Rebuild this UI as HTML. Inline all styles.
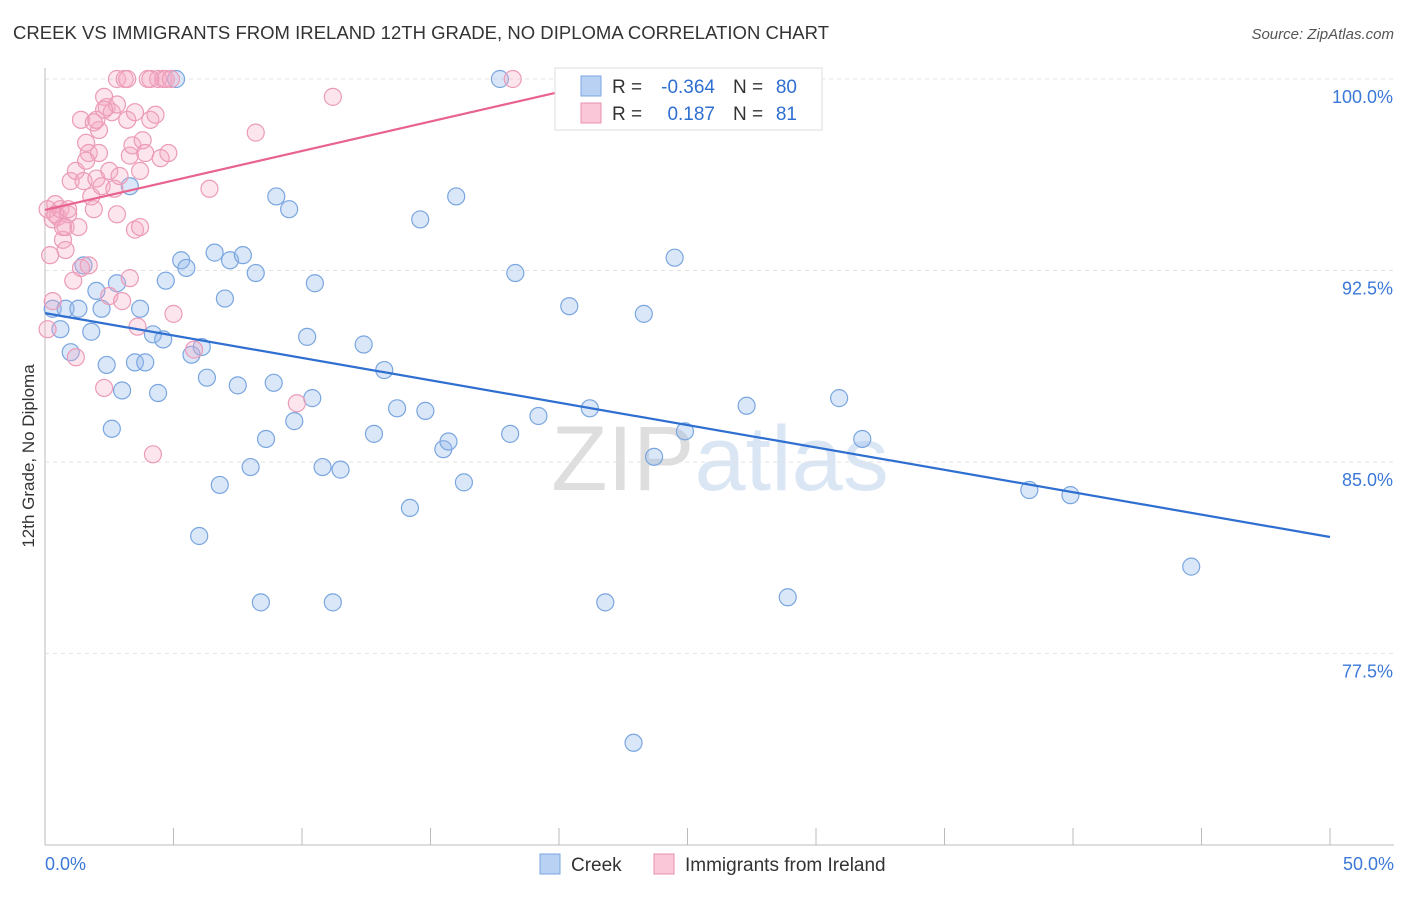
<!DOCTYPE html>
<html><head><meta charset="utf-8"><style>
body{margin:0;background:#fff;font-family:"Liberation Sans",sans-serif;}
svg text{font-family:"Liberation Sans",sans-serif;}
</style></head><body>
<svg id="chart" width="1406" height="892" xmlns="http://www.w3.org/2000/svg">
<text x="13" y="39" font-size="18.5" fill="#333" textLength="816">CREEK VS IMMIGRANTS FROM IRELAND 12TH GRADE, NO DIPLOMA CORRELATION CHART</text>
<text x="1394" y="39" font-size="15" fill="#555" text-anchor="end" font-style="italic">Source: ZipAtlas.com</text>
<text x="720" y="490" font-size="92" text-anchor="middle" fill="#e4e4e4" font-family="Liberation Serif"><tspan fill="#dedede">ZIP</tspan><tspan fill="#dbe6f5" font-family="Liberation Sans">atlas</tspan></text>
<g id="grid"></g><g id="marks"></g><g id="trends"></g>
<text transform="translate(34,456) rotate(-90)" font-size="17" fill="#333" text-anchor="middle">12th Grade, No Diploma</text>
<g>
<rect x="555" y="68" width="267" height="62" fill="#fff" stroke="#ddd"/>
<rect x="581" y="76" width="20" height="20" fill="#b9d2f3" stroke="#7aa6e0"/>
<rect x="581" y="103" width="20" height="20" fill="#f9c7d7" stroke="#e890b0"/>
<text x="612" y="93" font-size="19" fill="#333">R =</text>
<text x="715" y="93" font-size="19" fill="#2f6fd0" text-anchor="end">-0.364</text>
<text x="733" y="93" font-size="19" fill="#333">N =</text>
<text x="797" y="93" font-size="19" fill="#2f6fd0" text-anchor="end">80</text>
<text x="612" y="120" font-size="19" fill="#333">R =</text>
<text x="715" y="120" font-size="19" fill="#2f6fd0" text-anchor="end">0.187</text>
<text x="733" y="120" font-size="19" fill="#333">N =</text>
<text x="797" y="120" font-size="19" fill="#2f6fd0" text-anchor="end">81</text>
</g>
<g>
<rect x="540" y="854" width="20" height="20" fill="#b9d2f3" stroke="#7aa6e0"/>
<text x="571" y="871" font-size="19" fill="#333">Creek</text>
<rect x="654" y="854" width="20" height="20" fill="#f9c7d7" stroke="#e890b0"/>
<text x="685" y="871" font-size="19" fill="#333">Immigrants from Ireland</text>
</g>
</svg>
<script>
const yTicks=[100,92.5,85,77.5];
const yTickLabels=["100.0%","92.5%","85.0%","77.5%"];
const xTickLabels=["0.0%","50.0%"];
const creekX=[0.3,0.6,0.8,1.0,1.3,1.5,1.8,2.0,2.2,2.4,2.6,2.8,3.0,3.3,3.5,3.7,3.9,4.2,4.4,4.6,4.7,5.1,5.3,5.5,5.7,6.0,6.1,6.3,6.6,6.8,7.0,7.2,7.5,7.7,8.0,8.2,8.4,8.6,8.9,9.0,9.5,9.7,10.2,10.4,10.5,10.8,11.2,11.5,12.4,12.8,13.2,13.7,14.2,14.6,14.8,15.5,15.7,16.0,16.3,17.7,18.1,18.3,19.2,20.4,21.2,21.8,22.2,22.9,23.3,23.7,24.5,24.9,27.3,28.9,30.9,31.8,38.3,39.9,44.6];
const creekY=[91.0,90.2,91.0,89.3,91.0,92.7,90.1,91.7,91.0,88.8,86.3,92.0,87.8,95.8,88.9,91.0,88.9,90.0,87.7,89.8,92.1,100.0,92.9,92.6,89.2,82.1,89.5,88.3,93.2,84.1,91.4,92.9,88.0,93.1,84.8,92.4,79.5,85.9,88.1,95.4,94.9,86.6,89.9,87.5,92.0,84.8,79.5,84.7,89.6,86.1,88.6,87.1,83.2,94.5,87.0,85.5,85.8,95.4,84.2,100.0,86.1,92.4,86.8,91.1,87.1,79.5,100.0,74.0,90.8,85.2,93.0,86.2,87.2,79.7,87.5,85.9,83.9,83.7,80.9];
const irelandX=[0.1,0.2,0.3,0.3,0.4,0.5,0.6,0.7,0.8,0.8,0.9,1.0,1.1,1.2,1.2,1.3,1.4,1.4,1.5,1.6,1.7,1.7,1.8,1.9,1.9,2.0,2.1,2.1,2.2,2.3,2.3,2.4,2.5,2.5,2.6,2.7,2.8,2.8,2.9,3.0,3.1,3.2,3.2,3.3,3.3,3.4,3.5,3.5,3.6,3.7,3.7,3.8,3.9,4.0,4.1,4.2,4.3,4.4,4.5,4.6,4.7,4.8,4.9,5.0,5.8,6.4,8.2,9.8,11.2,18.2,0.1,0.4,0.7,0.9,1.6,2.0,2.3,2.8,4.1];
const irelandY=[90.2,93.1,91.3,94.5,95.1,94.6,94.9,93.7,93.3,94.2,94.7,96.0,92.1,96.4,89.1,94.2,92.6,98.4,96.0,97.5,92.7,97.1,95.4,94.9,98.3,96.1,97.1,98.0,95.8,87.9,99.3,98.9,91.5,96.4,98.7,95.7,99.0,100,96.2,91.3,100,100,98.4,97.0,92.2,97.4,94.1,98.7,90.3,96.4,94.2,97.6,97.1,100,98.4,85.3,98.6,100,96.9,100,100,97.1,100,90.8,89.4,95.7,97.9,87.3,99.3,100,94.9,94.7,94.2,94.9,96.8,98.4,98.8,94.7,100];
const creekTrend=[90.83,82.06];
const irelandTrend=[94.87,99.49,20.0];
const NS="http://www.w3.org/2000/svg";
const X=v=>45+v*(1285/50);
const Y=v=>79+(100-v)*25.53;
function mk(tag,attrs,parent){const e=document.createElementNS(NS,tag);for(const k in attrs)e.setAttribute(k,attrs[k]);parent.appendChild(e);return e;}
const grid=document.getElementById('grid');
yTicks.forEach((t,i)=>{
 const l=mk('line',{x1:45,x2:1394,y1:Y(t),y2:Y(t),stroke:'#e3e3e3','stroke-dasharray':'4,4'},grid);
 
 
 const tx=mk('text',{x:1393,y:Y(t)+24,'font-size':18,fill:'#3b78d8','text-anchor':'end'},grid);
 tx.textContent=yTickLabels[i];
 
 
});
const ax=mk('line',{x1:45,x2:45,y1:68,y2:845,stroke:'#bbb'},grid);


const bx=mk('line',{x1:45,x2:1394,y1:845,y2:845,stroke:'#bbb'},grid);


for(let i=0;i<=10;i++){
 const t=mk('line',{x1:X(i*5),x2:X(i*5),y1:828,y2:845,stroke:'#bbb'},grid);
 
 
}
[[0,'start',45],[50,'end',1394]].forEach((p,i)=>{
 const t=mk('text',{x:p[2],y:870,'font-size':18,fill:'#3b78d8','text-anchor':p[1]},grid);
 t.textContent=xTickLabels[i];
 
 
});
const marks=document.getElementById('marks');
creekX.forEach((x,i)=>{
 const c=mk('circle',{cx:X(x),cy:Y(creekY[i]),r:8.5,fill:'rgba(150,185,235,0.35)',stroke:'#7aa6e0','stroke-width':1.2},marks);
 
 
});
irelandX.forEach((x,i)=>{
 const c=mk('circle',{cx:X(x),cy:Y(irelandY[i]),r:8.5,fill:'rgba(245,170,195,0.3)',stroke:'#eb9bb8','stroke-width':1.2},marks);
 
 
});
const tr=document.getElementById('trends');
const l1=mk('line',{x1:X(0),y1:Y(creekTrend[0]),x2:X(50),y2:Y(creekTrend[1]),stroke:'#2f6fd0','stroke-width':2.2},tr);


const l2=mk('line',{x1:X(0),y1:Y(irelandTrend[0]),x2:X(irelandTrend[2]),y2:Y(irelandTrend[1]),stroke:'#e8638e','stroke-width':2.2},tr);


</script>
</body></html>
